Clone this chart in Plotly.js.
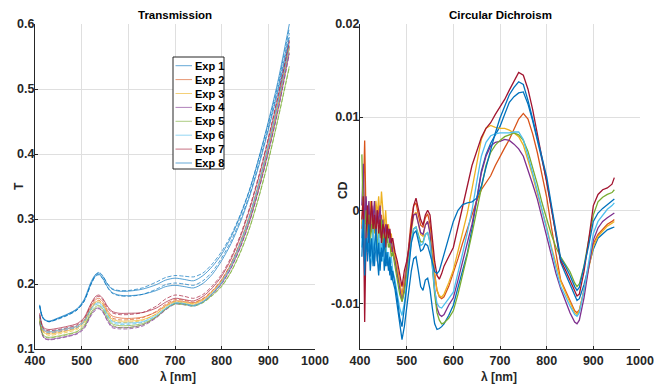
<!DOCTYPE html>
<html><head><meta charset="utf-8">
<script src="https://cdn.plot.ly/plotly-3.0.1.min.js"></script>
<style>body{margin:0;background:#fff}#c{width:654px;height:384px}</style>
</head><body><div id="c"></div>
<script>
// ---------- data ----------
const expNames = ['Exp 1','Exp 2','Exp 3','Exp 4','Exp 5','Exp 6','Exp 7','Exp 8'];
const expColors = ['#0072BD','#D95319','#EDB120','#7E2F8E','#77AC30','#4DBEEE','#A2142F','#0072BD'];

// Transmission (T) wavelengths, nm
const wlT = [410,415,420,430,450,470,490,505,520,530,537,545,555,565,580,600,630,660,680,700,720,740,760,780,800,820,840,860,880,900,920,945];
// solid lines
const tExp1 = [0.168,0.152,0.146,0.143,0.148,0.154,0.162,0.176,0.203,0.215,0.217,0.212,0.200,0.192,0.189,0.189,0.192,0.199,0.206,0.209,0.207,0.205,0.213,0.227,0.246,0.272,0.305,0.345,0.395,0.450,0.510,0.600];
const tExp2 = [0.150,0.134,0.128,0.126,0.128,0.131,0.135,0.144,0.166,0.176,0.178,0.173,0.160,0.151,0.148,0.147,0.149,0.157,0.167,0.174,0.173,0.171,0.177,0.189,0.206,0.231,0.264,0.305,0.355,0.412,0.475,0.565];
const tExp3 = [0.148,0.131,0.125,0.123,0.125,0.128,0.132,0.141,0.162,0.172,0.174,0.169,0.156,0.146,0.143,0.143,0.145,0.154,0.165,0.172,0.171,0.169,0.175,0.187,0.203,0.228,0.260,0.300,0.350,0.407,0.470,0.563];
const tExp4 = [0.142,0.124,0.117,0.115,0.117,0.120,0.124,0.133,0.153,0.162,0.163,0.158,0.145,0.135,0.133,0.133,0.137,0.149,0.161,0.170,0.169,0.167,0.173,0.185,0.201,0.225,0.257,0.297,0.347,0.403,0.465,0.556];
const tExp5 = [0.144,0.126,0.120,0.118,0.120,0.123,0.127,0.136,0.156,0.165,0.167,0.162,0.149,0.139,0.136,0.136,0.139,0.150,0.162,0.170,0.169,0.167,0.172,0.183,0.197,0.219,0.249,0.287,0.335,0.390,0.452,0.535];
const tExp6 = [0.152,0.135,0.129,0.127,0.129,0.132,0.135,0.143,0.162,0.170,0.171,0.166,0.153,0.143,0.140,0.140,0.142,0.152,0.163,0.171,0.170,0.167,0.173,0.186,0.203,0.229,0.263,0.305,0.356,0.414,0.478,0.568];
const tExp7 = [0.155,0.138,0.132,0.130,0.132,0.135,0.139,0.148,0.170,0.181,0.183,0.178,0.166,0.158,0.155,0.155,0.156,0.163,0.172,0.178,0.176,0.174,0.181,0.194,0.212,0.238,0.272,0.315,0.365,0.422,0.485,0.573];
const tExp8 = [0.166,0.150,0.145,0.142,0.147,0.153,0.161,0.174,0.200,0.213,0.215,0.209,0.196,0.187,0.183,0.182,0.184,0.190,0.196,0.198,0.196,0.194,0.201,0.215,0.236,0.262,0.295,0.335,0.383,0.437,0.495,0.580];
// dashed lines
const tdExp1 = [0.166,0.151,0.145,0.142,0.147,0.152,0.160,0.173,0.201,0.214,0.218,0.213,0.201,0.193,0.190,0.190,0.194,0.203,0.210,0.213,0.212,0.211,0.217,0.231,0.250,0.275,0.307,0.346,0.394,0.447,0.505,0.594];
const tdExp2 = [0.149,0.132,0.126,0.124,0.126,0.129,0.133,0.142,0.163,0.173,0.175,0.170,0.157,0.148,0.145,0.145,0.148,0.158,0.169,0.176,0.175,0.172,0.178,0.190,0.207,0.232,0.265,0.306,0.356,0.413,0.476,0.566];
const tdExp3 = [0.147,0.130,0.124,0.121,0.123,0.126,0.130,0.139,0.160,0.170,0.172,0.167,0.154,0.144,0.141,0.141,0.144,0.154,0.166,0.173,0.172,0.170,0.176,0.188,0.204,0.229,0.261,0.301,0.351,0.408,0.471,0.561];
const tdExp4 = [0.141,0.123,0.116,0.114,0.116,0.119,0.123,0.131,0.151,0.160,0.162,0.157,0.143,0.133,0.131,0.131,0.135,0.148,0.160,0.169,0.168,0.166,0.172,0.184,0.200,0.224,0.256,0.296,0.346,0.402,0.464,0.554];
const tdExp5 = [0.143,0.125,0.119,0.117,0.119,0.122,0.126,0.134,0.154,0.163,0.165,0.160,0.147,0.137,0.133,0.133,0.137,0.149,0.161,0.169,0.168,0.166,0.171,0.182,0.196,0.218,0.248,0.286,0.334,0.389,0.451,0.533];
const tdExp6 = [0.150,0.133,0.127,0.125,0.127,0.130,0.133,0.141,0.160,0.168,0.169,0.164,0.151,0.141,0.138,0.138,0.141,0.151,0.162,0.170,0.169,0.166,0.172,0.185,0.202,0.228,0.262,0.304,0.355,0.412,0.476,0.566];
const tdExp7 = [0.153,0.136,0.130,0.128,0.130,0.133,0.137,0.146,0.168,0.179,0.181,0.176,0.164,0.156,0.153,0.153,0.156,0.166,0.177,0.183,0.181,0.178,0.184,0.197,0.215,0.241,0.275,0.318,0.368,0.425,0.488,0.575];
const tdExp8 = [0.167,0.151,0.145,0.142,0.146,0.152,0.160,0.173,0.199,0.212,0.214,0.208,0.195,0.186,0.182,0.181,0.184,0.192,0.199,0.2015,0.200,0.198,0.205,0.219,0.240,0.266,0.299,0.338,0.387,0.441,0.500,0.586];

// Circular dichroism wavelengths, nm ; CD values in units of 1e-3
const wlCD = [404,407,410,413,416,419,422,425,428,431,434,437,440,443,446,449,452,455,458,461,464,467,470,
  475,480,485,490,495,500,505,510,515,520,525,530,535,540,545,550,555,560,565,570,575,580,
  590,600,610,620,630,640,650,660,670,680,690,700,710,720,730,740,750,760,770,780,790,800,810,820,830,840,850,860,
  865,870,880,890,900,910,920,930,940,945];
const cdExp1 = [-3.0,0.5,-6.0,-2.0,-5.5,-3.0,-6.5,-4.0,-2.5,-6.0,-3.5,-5.0,-7.0,-4.0,-5.5,-3.0,-6.5,-4.5,-6.0,-5.0,-7.0,-6.0,-7.5,
  -8.5,-10.5,-12.5,-13.9,-12.5,-10.5,-8.5,-6.5,-5.2,-5.0,-6.5,-8.2,-8.6,-7.5,-7.3,-8.5,-10.5,-12.2,-12.8,-12.7,-12.5,-12.2,
  -11.3,-10.2,-8.3,-6.5,-4.6,-2.0,1.0,4.2,6.0,7.2,8.1,9.0,10.3,11.6,12.2,12.6,12.7,11.4,9.6,7.6,5.4,3.2,0.2,-2.8,-5.6,-6.8,-8.0,-9.3,
  -9.7,-9.5,-8.0,-6.0,-4.2,-3.0,-2.5,-2.1,-1.9,-1.8];
const cdExp2 = [-2.0,1.0,7.5,-1.0,-3.0,0.0,-2.5,-0.5,-3.0,0.5,-2.0,-1.0,0.5,-2.5,-0.5,-3.0,-1.0,-2.0,-3.5,-2.0,-3.5,-4.5,-3.5,
  -5.0,-6.5,-8.0,-9.2,-7.5,-6.0,-3.5,-1.0,0.5,0.8,-0.5,-1.6,-1.8,-0.8,-0.4,-1.5,-4.0,-6.8,-8.6,-9.3,-9.5,-9.3,
  -8.2,-6.8,-5.2,-3.5,-2.0,-0.5,1.0,2.2,3.0,3.7,4.8,5.8,6.7,7.6,8.7,9.8,10.4,9.8,8.2,6.2,3.8,1.4,-1.8,-4.8,-7.5,-8.6,-9.7,-10.8,
  -11.0,-10.7,-8.6,-6.0,-3.6,-2.6,-2.0,-1.5,-1.2,-1.0];
const cdExp3 = [-1.5,3.0,-0.5,-3.0,0.5,-2.0,1.0,-1.5,0.0,-2.5,1.0,-0.5,1.5,-1.0,2.0,-0.5,-2.0,0.0,-2.5,-1.5,-3.0,-2.5,-4.0,
  -5.0,-6.5,-8.0,-9.3,-8.0,-6.0,-4.0,-2.0,-0.5,-0.2,-1.5,-2.6,-2.8,-1.6,-1.2,-2.2,-4.5,-7.0,-8.6,-9.2,-9.3,-9.0,
  -7.8,-6.4,-4.4,-2.5,-0.3,2.3,5.0,7.6,8.8,9.1,8.9,8.8,8.8,8.6,8.3,7.9,7.0,5.4,3.7,1.8,0.0,-1.8,-3.9,-5.8,-7.6,-8.8,-9.9,-11.0,
  -11.2,-10.8,-8.6,-6.2,-3.9,-2.8,-2.2,-1.7,-1.4,-1.2];
const cdExp4 = [0.5,5.0,-2.0,1.5,-1.5,1.0,-2.5,0.5,-1.0,1.0,-2.0,0.0,-1.5,0.5,-2.5,-1.0,-3.0,-1.5,-3.0,-2.0,-4.0,-3.0,-4.5,
  -5.5,-7.0,-8.5,-9.8,-8.5,-6.5,-4.0,-1.8,-0.5,-0.4,-1.4,-2.4,-2.6,-1.6,-1.2,-2.5,-5.5,-8.5,-10.5,-11.2,-11.4,-11.2,
  -10.2,-9.4,-7.5,-5.5,-3.5,-1.5,1.1,4.0,5.8,6.9,7.3,7.4,7.6,7.5,7.1,6.6,5.8,4.4,2.8,1.2,-0.8,-2.8,-4.9,-6.8,-8.4,-9.8,-11.0,-12.0,
  -12.2,-11.8,-9.4,-6.2,-3.2,-1.9,-1.2,-0.8,-0.5,-0.3];
const cdExp5 = [6.0,-1.0,-3.5,0.0,-2.5,-0.5,-3.5,-1.5,-3.0,-1.0,-2.5,-4.0,-1.5,-3.0,-1.0,-3.5,-2.5,-4.5,-2.5,-4.0,-3.5,-5.0,-4.5,
  -6.0,-7.5,-9.0,-9.8,-8.8,-7.0,-5.0,-3.2,-2.0,-1.8,-2.6,-3.4,-3.4,-2.6,-2.4,-3.4,-6.0,-9.0,-11.0,-11.8,-12.2,-12.1,
  -11.6,-10.8,-9.0,-7.0,-4.8,-2.5,0.0,2.6,4.8,6.2,7.0,7.5,7.9,8.1,8.3,8.1,7.5,6.3,4.6,2.8,0.8,-1.0,-2.6,-4.0,-5.0,-5.8,-6.6,-7.8,
  -8.2,-7.9,-6.0,-3.2,-0.5,0.9,1.4,1.7,1.9,2.2];
const cdExp6 = [-4.0,1.0,-5.5,-1.5,-4.5,-2.0,-3.5,-5.5,-2.0,-4.5,-3.0,-5.0,-2.5,-4.5,-3.0,-5.5,-4.0,-3.0,-5.5,-4.5,-6.0,-5.0,-6.5,
  -7.5,-9.0,-10.5,-11.3,-10.0,-8.0,-5.5,-3.2,-2.0,-1.8,-2.8,-3.8,-3.6,-2.6,-2.4,-3.5,-6.0,-8.6,-10.0,-10.4,-10.5,-10.2,
  -9.5,-8.8,-6.8,-4.6,-2.4,0.0,3.0,5.8,7.3,8.0,8.2,8.3,8.3,8.3,8.4,8.4,7.6,5.9,4.0,2.1,0.1,-1.8,-4.1,-6.3,-8.2,-9.2,-10.3,-11.2,
  -11.4,-11.0,-8.6,-5.6,-2.5,-1.2,-0.5,0.1,0.5,0.8];
const cdExp7 = [-1.0,1.5,-12.0,-2.5,0.5,-3.5,-1.0,1.0,-2.0,-0.5,-3.0,0.0,-2.5,-1.0,-3.5,-1.5,-2.0,-4.0,-1.5,-3.0,-2.0,-3.5,-3.0,
  -4.5,-5.5,-7.0,-8.2,-6.5,-5.5,-4.0,-1.5,0.5,1.3,0.0,-1.0,-1.6,-0.5,0.0,-0.5,-3.0,-5.5,-7.0,-7.4,-6.8,-6.0,
  -5.0,-4.0,-1.8,0.5,2.8,4.8,6.3,7.8,8.8,9.4,10.3,11.1,11.9,12.9,13.9,14.8,14.5,13.0,10.8,8.3,5.6,3.0,0.2,-2.6,-5.4,-6.4,-7.6,-8.8,
  -9.2,-9.0,-6.6,-3.2,0.5,1.7,2.2,2.4,2.8,3.5];
const cdExp8 = [-5.0,-1.0,-7.0,-3.0,-4.5,-1.5,-5.0,-3.0,-6.0,-4.0,-2.0,-5.5,-3.5,-6.5,-4.0,-5.0,-3.0,-6.0,-4.5,-6.5,-5.0,-7.5,-6.5,
  -8.0,-9.5,-11.5,-12.5,-10.5,-8.5,-6.0,-3.5,-2.5,-2.2,-3.2,-4.4,-4.2,-3.6,-3.8,-4.6,-5.6,-6.6,-6.8,-6.5,-5.6,-4.6,
  -2.8,-1.2,0.0,0.6,0.8,0.9,1.3,2.6,4.6,6.5,8.3,9.9,11.2,12.4,13.2,13.8,13.5,11.8,9.8,7.8,5.7,3.6,0.6,-2.4,-5.2,-6.0,-7.0,-8.2,
  -8.6,-8.3,-6.2,-3.8,-1.2,-0.3,0.2,0.6,0.9,1.2];

const tSolid = [tExp1,tExp2,tExp3,tExp4,tExp5,tExp6,tExp7,tExp8];
const tDash = [tdExp1,tdExp2,tdExp3,tdExp4,tdExp5,tdExp6,tdExp7,tdExp8];
const cdAll = [cdExp1,cdExp2,cdExp3,cdExp4,cdExp5,cdExp6,cdExp7,cdExp8];

const xTicks = [400,500,600,700,800,900,1000];
const tTicks = [0.1,0.2,0.3,0.4,0.5,0.6];
const tTickText = ['0.1','0.2','0.3','0.4','0.5','0.6'];
const cdTicks = [-0.01,0,0.01,0.02];
const cdTickText = ['-0.01','0','0.01','0.02'];

// ---------- chart ----------
const W = 654, H = 384;
const PX = x => x / W, PY = y => 1 - y / H;
const FONT = 'Liberation Sans, Arial, Helvetica, sans-serif';
const INK = '#262626';

const traces = [];
for (let i = 0; i < 8; i++) {
  traces.push({x: wlT, y: tSolid[i], type: 'scatter', mode: 'lines', xaxis: 'x', yaxis: 'y',
    line: {color: expColors[i], width: 0.9, shape: 'spline', smoothing: 0.8}, opacity: 0.75,
    name: expNames[i], showlegend: false, hoverinfo: 'skip'});
  traces.push({x: wlT, y: tDash[i], type: 'scatter', mode: 'lines', xaxis: 'x', yaxis: 'y',
    line: {color: expColors[i], width: 0.9, dash: '4px,2px', shape: 'spline', smoothing: 0.8}, opacity: 0.75,
    name: expNames[i] + ' (dashed)', showlegend: false, hoverinfo: 'skip'});
}
for (let i = 0; i < 8; i++) {
  traces.push({x: wlCD, y: cdAll[i].map(v => v / 1000), type: 'scatter', mode: 'lines', xaxis: 'x2', yaxis: 'y2',
    line: {color: expColors[i], width: 1.3}, name: expNames[i], showlegend: false, hoverinfo: 'skip'});
}

const tickFont = {family: FONT, size: 12.5, color: INK, weight: 'bold'};
const axBase = {showline: true, linecolor: INK, linewidth: 1, mirror: false,
  showgrid: true, gridcolor: '#dfdfdf', gridwidth: 1, zeroline: false,
  ticks: 'inside', ticklen: 3, tickcolor: INK, tickfont: tickFont, fixedrange: true};
const yDom = [PY(349), PY(24)];

const shapes = [], annotations = [];
// manual legend (as in the original figure)
shapes.push({type: 'rect', xref: 'paper', yref: 'paper', x0: PX(173), x1: PX(224), y0: PY(169), y1: PY(57),
  line: {color: INK, width: 1}, fillcolor: '#ffffff', layer: 'above'});
for (let i = 0; i < 8; i++) {
  const yc = 65.7 + i * 13.9;
  shapes.push({type: 'line', xref: 'paper', yref: 'paper', x0: PX(175.5), x1: PX(192), y0: PY(yc), y1: PY(yc),
    line: {color: expColors[i], width: 1}, opacity: 0.6, layer: 'above'});
  annotations.push({xref: 'paper', yref: 'paper', x: PX(193), y: PY(yc), xanchor: 'left', yanchor: 'middle',
    text: expNames[i], showarrow: false, font: {family: FONT, size: 11, color: '#000', weight: 'bold'}});
}
const titleFont = {family: FONT, size: 11.5, color: '#000', weight: 'bold'};
const labFont = {family: FONT, size: 12, color: INK, weight: 'bold'};
function note(x, y, text, font, angle) {
  annotations.push({xref: 'paper', yref: 'paper', x: PX(x), y: PY(y), xanchor: 'center', yanchor: 'middle',
    text: text, showarrow: false, font: font, textangle: angle || 0});
}
note(175, 15, 'Transmission', titleFont);
note(500, 15, 'Circular Dichroism', titleFont);
note(178, 377, 'λ [nm]', labFont);
note(499, 377, 'λ [nm]', labFont);
note(19, 186, 'T', labFont, -90);
note(343, 190, 'CD', labFont, -90);

const layout = {
  width: W, height: H, margin: {l: 0, r: 0, t: 0, b: 0},
  paper_bgcolor: '#ffffff', plot_bgcolor: '#ffffff', showlegend: false,
  xaxis: Object.assign({}, axBase, {domain: [PX(35), PX(315)], range: [400, 1000], tickvals: xTicks, anchor: 'y'}),
  yaxis: Object.assign({}, axBase, {domain: yDom, range: [0.1, 0.6], tickvals: tTicks, ticktext: tTickText, anchor: 'x', ticklabelstandoff: -3}),
  xaxis2: Object.assign({}, axBase, {domain: [PX(360), PX(640)], range: [400, 1000], tickvals: xTicks, anchor: 'y2'}),
  yaxis2: Object.assign({}, axBase, {domain: yDom, range: [-0.0149, 0.02], tickvals: cdTicks, ticktext: cdTickText, anchor: 'x2', ticklabelstandoff: -3}),
  shapes: shapes, annotations: annotations
};
Plotly.newPlot('c', traces, layout, {staticPlot: true, displayModeBar: false});
</script></body></html>
